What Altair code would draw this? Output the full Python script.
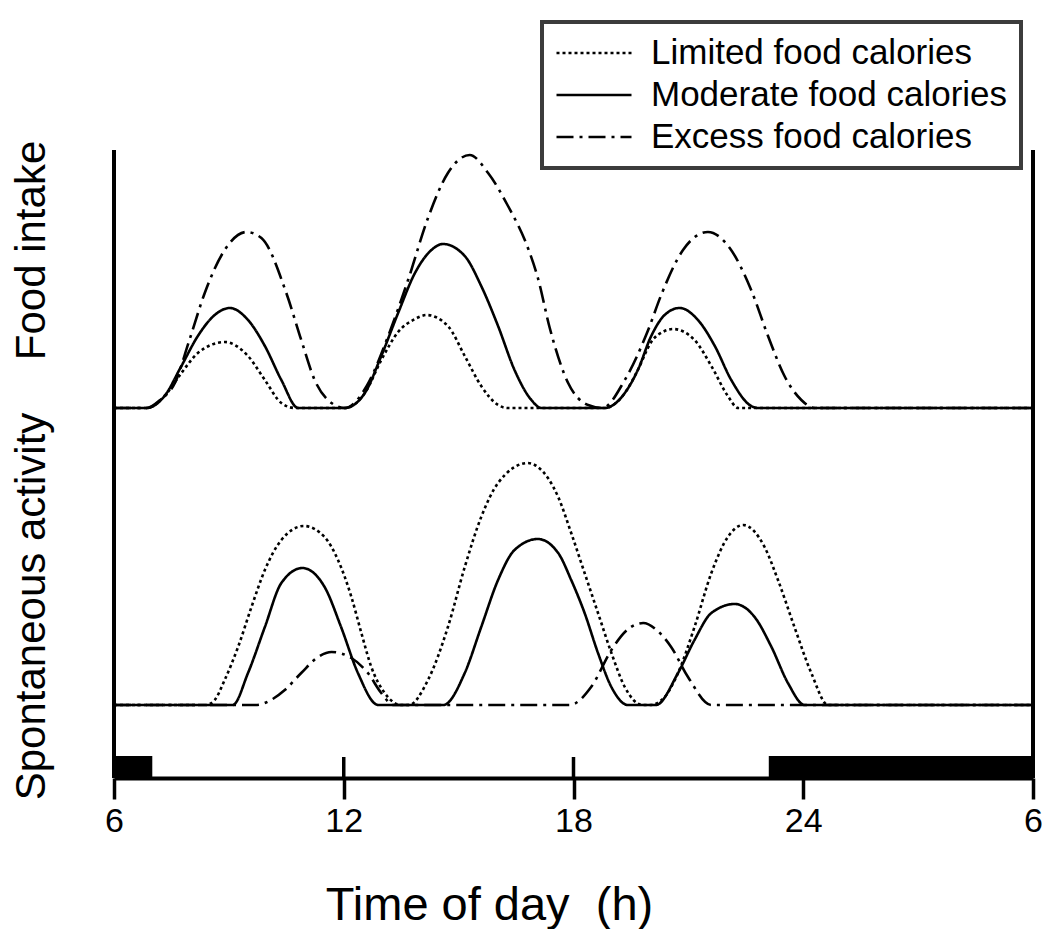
import altair as alt
import pandas as pd

# ---------------- axis / frame values ----------------
tick_values = [6, 12, 18, 24, 30]
tick_labels = ["6", "12", "18", "24", "6"]
inner_ticks = [12, 18, 24]
frame_x = [6, 30]
frame_top = 628
axis_top = 770
dark_start = [6, 23.1]
dark_end = [7, 30]
dark_height = 22
inner_tick_height = 21

panels = ["Food intake", "Spontaneous activity"]
panel_base = [370, 73]
panel_label_pos = [528, 172]

series_order = ["Limited food calories", "Moderate food calories", "Excess food calories"]
series_dash = [[3, 3], [1, 0], [17, 6, 3, 6]]
draw_order = ["Excess food calories", "Limited food calories", "Moderate food calories"]

# ---------------- Food intake ----------------
food_limited_h = [6, 6.85, 7.32, 7.76, 8.19, 8.89, 9.5, 9.94, 10.37, 10.72,
                  12.03, 12.55, 12.98, 13.42, 13.86, 14.16, 14.72, 15.16, 15.59, 16.03, 16.29,
                  18.81, 19.34, 19.68, 20.03, 20.38, 20.6, 21.16, 21.6, 22.03, 22.3, 30]
food_limited_v = [0, 0, 12, 35, 55, 66, 52, 28, 5, 0,
                  0, 15, 48, 76, 89, 93, 82, 52, 22, 3, 0,
                  0, 15, 38, 66, 77, 79, 68, 42, 12, 0, 0]

food_moderate_h = [6, 6.85, 7.32, 7.76, 8.19, 8.63, 9.02, 9.5, 9.94, 10.37, 10.81,
                   12.03, 12.55, 12.98, 13.42, 13.86, 14.29, 14.59, 15.16, 15.59, 16.03, 16.46, 16.9, 17.16,
                   18.81, 19.34, 19.68, 20.03, 20.38, 20.77, 21.25, 21.69, 22.12, 22.64, 22.82, 30]
food_moderate_v = [0, 0, 12, 42, 72, 93, 100, 88, 62, 28, 0,
                   0, 15, 52, 95, 135, 158, 164, 152, 122, 82, 38, 8, 0,
                   0, 15, 38, 72, 93, 100, 88, 62, 28, 2, 0, 0]

food_excess_h = [6, 6.85, 7.2, 7.59, 7.97, 8.37, 8.89, 9.46, 9.85, 10.5, 10.89, 11.24, 11.68, 12.03,
                 12.6, 13.16, 13.68, 14.2, 14.72, 15.29, 15.77, 16.29, 16.81, 17.07, 17.38, 17.86, 18.38, 18.75,
                 19.34, 19.95, 20.29, 20.86, 21.51, 22.08, 22.64, 23.08, 23.51, 23.95, 24.3, 30]
food_excess_v = [0, 0, 8, 25, 68, 115, 158, 176, 170, 115, 68, 28, 5, 0,
                 22, 72, 128, 190, 235, 253, 235, 202, 160, 130, 80, 25, 3, 0,
                 28, 78, 113, 158, 176, 160, 118, 72, 32, 8, 0, 0]

# ---------------- Spontaneous activity ----------------
act_limited_h = [6, 8.4, 8.63, 8.89, 9.24, 9.59, 9.94, 10.37, 10.96, 11.5, 11.85, 12.2, 12.46, 12.72, 13.07, 13.5,
                 13.7, 14.2, 14.72, 15.16, 15.59, 16.03, 16.81, 17.07, 17.6, 17.94, 18.29, 18.64, 18.99, 19.34, 19.8,
                 20.0, 20.38, 20.73, 21.16, 21.6, 22.03, 22.43, 22.99, 23.34, 23.77, 24.21, 24.65, 30]
act_limited_v = [0, 0, 5, 25, 58, 98, 135, 165, 179, 168, 145, 108, 72, 38, 12, 0,
                 0, 25, 78, 138, 188, 222, 242, 238, 208, 172, 132, 92, 52, 18, 0,
                 0, 8, 32, 78, 132, 168, 180, 158, 125, 78, 32, 0, 0]

act_moderate_h = [6, 9.1, 9.5, 9.94, 10.37, 10.92, 11.5, 11.93, 12.37, 12.9,
                  14.6, 15.16, 15.59, 16.03, 16.46, 17.07, 17.6, 17.94, 18.29, 18.64, 18.99, 19.42,
                  20.15, 20.73, 21.16, 21.6, 22.21, 22.73, 23.17, 23.6, 24.04, 30]
act_moderate_v = [0, 0, 32, 78, 122, 137, 118, 78, 32, 0,
                  0, 32, 78, 125, 155, 166, 152, 125, 92, 52, 18, 0,
                  0, 32, 65, 92, 101, 88, 58, 22, 0, 0]

act_excess_h = [6, 9.7, 10.1, 10.46, 10.89, 11.33, 11.68, 12.2, 12.63, 12.98, 13.3,
                17.9, 18.46, 18.99, 19.4, 19.82, 20.2, 20.55, 20.99, 21.6, 30]
act_excess_v = [0, 0, 5, 15, 32, 48, 53, 47, 32, 12, 0,
                0, 18, 55, 75, 82, 74, 58, 28, 0, 0]

# ---------------- build table ----------------
curves = [
    (panels[0], series_order[0], food_limited_h, food_limited_v),
    (panels[0], series_order[1], food_moderate_h, food_moderate_v),
    (panels[0], series_order[2], food_excess_h, food_excess_v),
    (panels[1], series_order[0], act_limited_h, act_limited_v),
    (panels[1], series_order[1], act_moderate_h, act_moderate_v),
    (panels[1], series_order[2], act_excess_h, act_excess_v),
]
base_of = dict(zip(panels, panel_base))
rows = []
for panel, series, hs, vs in curves:
    for h, v in zip(hs, vs):
        rows.append({"panel": panel, "series": series, "hour": h, "value": v,
                     "y": v + base_of[panel]})
df = pd.DataFrame(rows)

FONT = "Liberation Sans"

x_label_expr = ""
for v, l in zip(tick_values, tick_labels):
    x_label_expr += f"datum.value == {v} ? '{l}' : "
x_label_expr += "datum.label"

y_label_expr = ""
for v, l in zip(panel_label_pos, panels):
    y_label_expr += f"datum.value == {v} ? '{l}' : "
y_label_expr += "''"

x_scale = alt.Scale(domain=[6, 30], nice=False, zero=False)
y_scale = alt.Scale(domain=[0, axis_top], nice=False, zero=False)

x_axis = alt.Axis(values=tick_values, labelExpr=x_label_expr, domainWidth=4, domainColor="black",
                  tickWidth=3.5, tickColor="black", tickSize=21, labelFontSize=34, labelFont=FONT,
                  labelColor="black", labelPadding=5, labelFlush=False, labelOverlap=False, grid=False,
                  title="Time of day\u00a0 (h)", titleFontSize=47, titleFont=FONT, titleFontWeight="normal",
                  titleColor="black", titleX=375, titleY=141, titleAlign="center",
                  titleBaseline="alphabetic")
y_axis = alt.Axis(values=panel_label_pos, labelExpr=y_label_expr, labelAngle=270, labelAlign="center",
                  labelBaseline="alphabetic", labelPadding=70, labelFontSize=42, labelFont=FONT,
                  labelColor="black", labelLimit=1000, ticks=False, tickSize=0, domain=False, grid=False,
                  labelOverlap=False, labelFlush=False, title=None)

legend = alt.Legend(orient="none", legendX=428, legendY=14, symbolType="stroke", symbolSize=5625,
                    symbolStrokeWidth=2.5, symbolStrokeColor="black", labelFontSize=35, labelFont=FONT,
                    labelColor="black", labelOffset=18, padding=13, rowPadding=6, clipHeight=36,
                    fillColor="white", strokeColor="#3c3c3c", labelLimit=600)


def xenc(field):
    return alt.X(field, type="quantitative", scale=x_scale, axis=x_axis)


def yenc(field):
    return alt.Y(field, type="quantitative", scale=y_scale, axis=y_axis)


layers = []

# night bars
dark_df = pd.DataFrame({"x": dark_start, "x2": dark_end, "y0": [0] * len(dark_start),
                        "y1": [dark_height] * len(dark_start)})
layers.append(alt.Chart(dark_df).mark_rect(color="black").encode(
    x=xenc("x"), x2="x2:Q", y=yenc("y0"), y2="y1:Q"))

# inner ticks above axis
tick_df = pd.DataFrame({"x": inner_ticks, "y0": [0] * len(inner_ticks),
                        "y1": [inner_tick_height] * len(inner_ticks)})
layers.append(alt.Chart(tick_df).mark_rule(color="black", strokeWidth=3.5).encode(
    x=xenc("x"), y=yenc("y0"), y2="y1:Q"))

# frame verticals
frame_df = pd.DataFrame({"x": frame_x, "y0": [0] * len(frame_x), "y1": [frame_top] * len(frame_x)})
layers.append(alt.Chart(frame_df).mark_rule(color="black", strokeWidth=4).encode(
    x=xenc("x"), y=yenc("y0"), y2="y1:Q"))

# curves
for s in draw_order:
    sub = df[df["series"] == s]
    layers.append(alt.Chart(sub).mark_line(color="black", strokeWidth=2.6, interpolate="monotone").encode(
        x=xenc("hour"), y=yenc("y"),
        strokeDash=alt.StrokeDash("series:N", scale=alt.Scale(domain=series_order, range=series_dash),
                                  legend=legend, title=None),
        detail="panel:N"))

chart = alt.layer(*layers).properties(
    width=919, height=axis_top,
    autosize=alt.AutoSizeParams(type="none"),
    padding={"left": 106, "top": 0, "right": 9, "bottom": 151},
).configure_view(strokeWidth=0)

try:
    c2 = chart.configure_legend(strokeWidth=4)
    c2.to_dict()
    chart = c2
except Exception:
    pass

chart.save("out.html", embed_options={"renderer": "svg", "actions": False})
